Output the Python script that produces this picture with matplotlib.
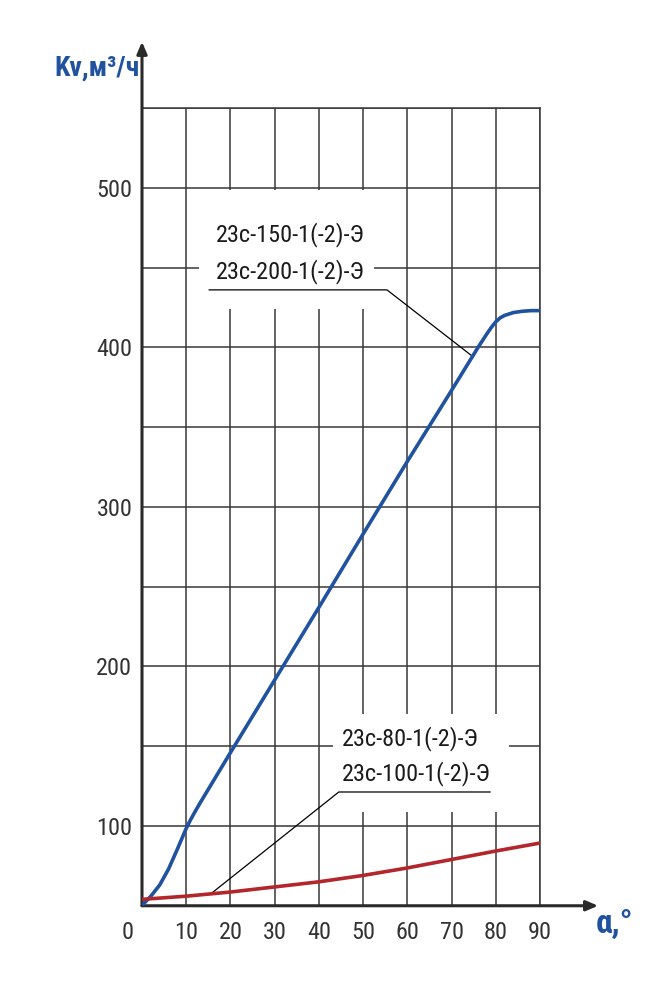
import matplotlib
matplotlib.use("Agg")
import matplotlib.pyplot as plt
import matplotlib.font_manager as fm
from matplotlib.patches import Rectangle
from matplotlib.transforms import ScaledTranslation

# narrow font if available
names = {f.name for f in fm.fontManager.ttflist}
font = 'Roboto Condensed' if 'Roboto Condensed' in names else 'Roboto'
plt.rcParams['font.family'] = [font, 'DejaVu Sans']

# data
alpha_big = [0.3, 2, 4, 6, 8, 9, 10, 11, 12, 13, 15, 20, 30, 40, 50, 60, 70, 72, 74, 76, 78, 79, 80, 81, 82, 84, 86, 88, 90]
kv_big = [51, 56, 63, 73, 85.5, 92, 98.5, 104, 109, 113.8, 123, 146, 191.5, 237, 283, 328.5, 373, 382, 391, 400, 408.5, 412.5, 416, 418.5, 420, 421.8, 422.6, 423, 423]
alpha_small = [0, 10, 20, 30, 40, 50, 60, 70, 80, 90]
kv_small = [54, 56, 58.6, 61.8, 65, 69, 73.7, 79, 84.3, 89.3]

labels_big = ['23с-150-1(-2)-Э', '23с-200-1(-2)-Э']
labels_small = ['23с-80-1(-2)-Э', '23с-100-1(-2)-Э']

x_ticks = [0, 10, 20, 30, 40, 50, 60, 70, 80, 90]
y_ticks = [100, 200, 300, 400, 500]
y_minor = [150, 250, 350, 450, 550]

blue = '#2052a0'
red = '#b3262c'
grid_c = '#383838'

fig = plt.figure(figsize=(6.59, 10), dpi=100)
ax = fig.add_axes([142/659, 1-905.75/1000, 398/659, 797.75/1000])
ax.set_xlim(0, 90)
ax.set_ylim(50, 550)

ax.set_xticks(x_ticks)
ax.set_xticklabels([str(v) for v in x_ticks])
ax.set_yticks(y_ticks)
ax.set_yticklabels([str(v) for v in y_ticks])
ax.set_yticks(y_minor, minor=True)
ax.grid(which='both', color=grid_c, lw=1.1)
ax.tick_params(which='both', length=0, labelsize=17.5, colors='#333333')
ax.tick_params(axis='y', pad=7)
ax.tick_params(axis='x', pad=11)
lbl = ax.get_xticklabels()[0]
lbl.set_transform(lbl.get_transform() + ScaledTranslation(-0.14, 0, fig.dpi_scale_trans))

for s in ['top', 'right']:
	ax.spines[s].set_color(grid_c)
	ax.spines[s].set_linewidth(1.1)
for s in ['left', 'bottom']:
	ax.spines[s].set_visible(False)

# axes with arrows
arr = dict(arrowstyle='-|>,head_length=0.7,head_width=0.3', color='#2a2a2a', lw=2.2, shrinkA=0, shrinkB=0)
ax.annotate('', xy=(0, 1.083), xytext=(0, 0), xycoords='axes fraction', arrowprops=arr, annotation_clip=False)
ax.annotate('', xy=(1.146, 0), xytext=(0, 0), xycoords='axes fraction', arrowprops=arr, annotation_clip=False)

# white boxes behind labels
ax.add_patch(Rectangle((12.9, 424), 39.6, 74.7, facecolor='white', edgecolor='none', zorder=2))
ax.add_patch(Rectangle((43.2, 108.8), 39.8, 61.4, facecolor='white', edgecolor='none', zorder=2))

ax.plot(alpha_big, kv_big, color=blue, lw=2.6, zorder=3, solid_capstyle='round')
ax.plot(alpha_small, kv_small, color=red, lw=2.6, zorder=3, solid_capstyle='round')

# leaders
ax.plot([15.2, 55.4, 74.9], [436, 436, 394], color='black', lw=0.9, zorder=2.5)
ax.plot([78.7, 44.5, 15.8], [121.3, 121.3, 58], color='black', lw=0.9, zorder=2.5)

ax.text(16.7, 470.5, labels_big[0], fontsize=17.5, color='#1a1a1a', va='center', zorder=4)
ax.text(16.7, 447.3, labels_big[1], fontsize=17.5, color='#1a1a1a', va='center', zorder=4)
ax.text(45.2, 154.5, labels_small[0], fontsize=17.5, color='#1a1a1a', va='center', zorder=4)
ax.text(45.2, 132.6, labels_small[1], fontsize=17.5, color='#1a1a1a', va='center', zorder=4)

fig.text(54/659, 1-68/1000, 'Kv,м³/ч', fontsize=20, fontweight='bold', color=blue, va='center', ha='left')
fig.text(596/659, 1-924/1000, 'α,°', fontsize=24, fontweight='bold', color=blue, va='center', ha='left')

fig.savefig('out.png', dpi=100)
